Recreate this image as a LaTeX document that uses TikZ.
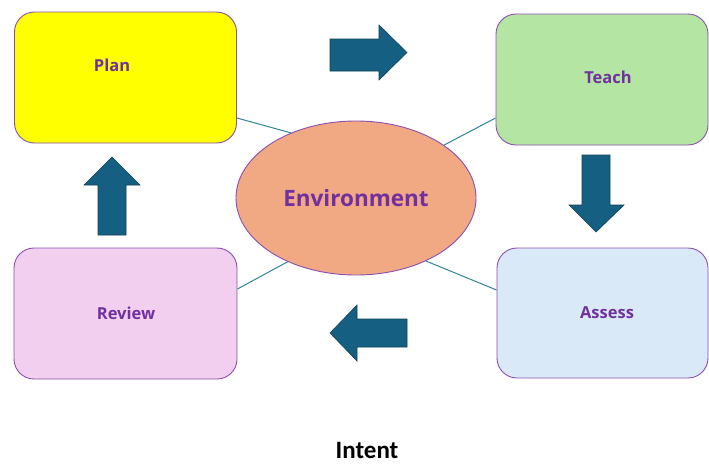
\documentclass[tikz,border=0pt]{standalone}
\usepackage{fontspec}
\usetikzlibrary{shapes.geometric}
\setmainfont{Open Sans}
\newfontfamily\intentfont{Carlito}
\definecolor{boxline}{HTML}{8A4FB0}
\definecolor{labelc}{HTML}{7030A0}
\definecolor{planc}{HTML}{FFFF00}
\definecolor{teachc}{HTML}{B4E5A2}
\definecolor{reviewc}{HTML}{F2CFEE}
\definecolor{assessc}{HTML}{DAE9F8}
\definecolor{envc}{HTML}{F1A983}
\definecolor{arrowc}{HTML}{156082}
\definecolor{arrowedge}{HTML}{0E3F55}
\definecolor{linkc}{HTML}{2F8597}
\begin{document}
\begin{tikzpicture}[x=1pt,y=-1pt,
  box/.style={draw=boxline, line width=0.9pt, rounded corners=20pt, inner sep=0pt},
  lbl/.style={text=labelc, font=\fontsize{16.5}{19}\selectfont\bfseries},
  blockarrow/.style={fill=arrowc, draw=arrowedge, line width=0.6pt, line join=miter},
  link/.style={draw=linkc, line width=1pt}]
\useasboundingbox (0,0) rectangle (709,464);
% boxes
\node[box, fill=planc, minimum width=222pt, minimum height=131pt] (plan) at (125.5,77.5) {};
\node[box, fill=teachc, minimum width=212pt, minimum height=131pt] (teach) at (602,79.5) {};
\node[box, fill=reviewc, minimum width=223pt, minimum height=131pt] (review) at (125.5,313.5) {};
\node[box, fill=assessc, minimum width=211pt, minimum height=130pt] (assess) at (602.5,313) {};
% labels
\node[lbl] (planlbl) at (112,65) {Plan};
\node[lbl] (teachlbl) at (608,77) {Teach};
\node[lbl] (reviewlbl) at (126,313) {Review};
\node[lbl] (assesslbl) at (607,313) {Assess};
% environment
\node[ellipse, draw=boxline, line width=0.9pt, fill=envc, minimum width=240pt, minimum height=154pt, inner sep=0pt,
  text=labelc, font=\fontsize{22.5}{26}\selectfont\bfseries] (env) at (356,198) {Environment};
% links
\draw[link] (plan.east |- 0,118) -- (env.135.4);
\draw[link] (teach.west |- 0,118) -- (env.31.4);
\draw[link] (review.east |- 0,289) -- (env.223.7);
\draw[link] (assess.west |- 0,290) -- (env.318.7);
% block arrows
\draw[blockarrow] (330,39) -- (379,39) -- (379,25) -- (407,52.5) -- (379,80) -- (379,71) -- (330,71) -- cycle;
\draw[blockarrow] (582,155) -- (610,155) -- (610,205) -- (624,205) -- (596,232) -- (569,205) -- (582,205) -- cycle;
\draw[blockarrow] (98,235) -- (126,235) -- (126,185) -- (140,185) -- (112,157) -- (84,185) -- (98,185) -- cycle;
\draw[blockarrow] (407,319) -- (357,319) -- (357,305) -- (330,333) -- (357,361) -- (357,347) -- (407,347) -- cycle;
% title
\node[font=\intentfont\fontsize{25}{30}\selectfont\bfseries, text=black, inner sep=0pt] (intent) at (367,450) {Intent};
\end{tikzpicture}
\end{document}
